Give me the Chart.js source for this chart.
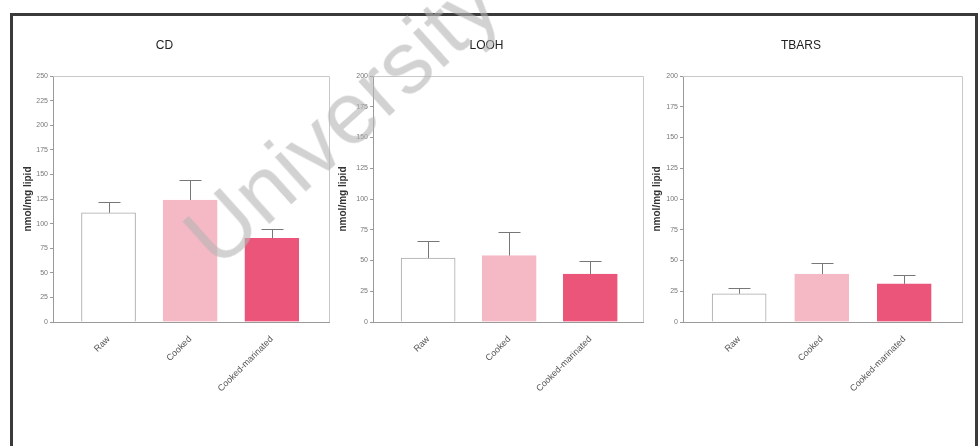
<!DOCTYPE html>
<html>
<head>
<meta charset="utf-8">
<script src="https://cdn.jsdelivr.net/npm/chart.js@4.4.0/dist/chart.umd.min.js"></script>
<style>
  body { margin: 0; background: #fff; overflow: hidden; }
  #page { position: relative; width: 978px; height: 446px; }
  .panel { position: absolute; top: 0; height: 446px; }
  #frame { position: absolute; left: 10px; top: 13px; width: 962px; height: 480px;
           border: 3px solid #3a3a3a; border-bottom: none; }
  #mark { position: absolute; left: 148px; top: 68px; font: 88px "Liberation Sans", Arial, sans-serif;
          color: rgba(180,180,180,0.6); transform: rotate(-42deg); transform-origin: 50% 50%;
          pointer-events: none; white-space: nowrap; }
</style>
</head>
<body>
<div id="page">
  <div id="frame"></div>
  <div class="panel" style="left:0;width:330px"><canvas id="cd_chart"></canvas></div>
  <div class="panel" style="left:330px;width:320px"><canvas id="looh_chart"></canvas></div>
  <div class="panel" style="left:640px;width:338px"><canvas id="tbars_chart"></canvas></div>
  <div id="mark">University</div>
</div>
<script>
var categories = ["Raw", "Cooked", "Cooked-marinated"];
var barColors = ["#ffffff", "#f5b9c5", "#ea5579"];
var barBorders = ["#a8a8a8", "#f5b9c5", "#ea5579"];

var cdMeans = [111, 124, 85];
var cdErrors = [11, 20, 10];
var loohMeans = [52, 54, 39];
var loohErrors = [14, 19, 11];
var tbarsMeans = [23, 39, 31];
var tbarsErrors = [5, 9, 7];

var yLabel = "nmol/mg lipid";
var fontFamily = '"Liberation Sans", Arial, sans-serif';

// error bars (upper side only) and the light box round each plot
var extrasPlugin = {
    id: 'extras',
    afterDatasetsDraw: function (chart) {
        var ctx = chart.ctx;
        var xs = chart.scales.x;
        var ys = chart.scales.y;
        var area = chart.chartArea;
        var errs = chart.options.plugins.extras.errors;
        var means = chart.options.plugins.extras.means;
        ctx.save();
        ctx.strokeStyle = '#c8c8c8';
        ctx.lineWidth = 1;
        ctx.beginPath();
        ctx.moveTo(area.left, area.top + 0.5);
        ctx.lineTo(area.right + 0.5, area.top + 0.5);
        ctx.lineTo(area.right + 0.5, area.bottom);
        ctx.stroke();
        ctx.strokeStyle = '#777';
        for (var i = 0; i < means.length; i++) {
            var x = Math.round(xs.getPixelForValue(i)) + 0.5;
            var y0 = ys.getPixelForValue(means[i]);
            var y1 = Math.round(ys.getPixelForValue(means[i] + errs[i])) + 0.5;
            ctx.beginPath();
            ctx.moveTo(x, y0);
            ctx.lineTo(x, y1);
            ctx.moveTo(x - 11, y1);
            ctx.lineTo(x + 11, y1);
            ctx.stroke();
        }
        ctx.restore();
    }
};

function MakePanel(id, title, means, errors, yMax, axisWidth, titlePad, xMax, padRight) {
    var points = [];
    for (var i = 0; i < means.length; i++) {
        points.push({ x: i, y: means[i] });
    }
    return new Chart(document.getElementById(id), {
        type: 'bar',
        data: {
            datasets: [{
                data: points,
                backgroundColor: barColors,
                borderColor: barBorders,
                borderWidth: 1,
                barThickness: 54
            }]
        },
        options: {
            responsive: true,
            maintainAspectRatio: false,
            animation: false,
            layout: { padding: { left: 0, right: padRight, top: 0, bottom: 0 } },
            plugins: {
                legend: { display: false },
                tooltip: { enabled: false },
                title: {
                    display: true,
                    text: title,
                    color: '#222',
                    font: { family: fontFamily, size: 12, weight: 'normal' },
                    padding: { top: 38, bottom: 23.6 }
                },
                extras: { means: means, errors: errors }
            },
            scales: {
                x: {
                    type: 'linear',
                    offset: false,
                    min: -0.68,
                    max: xMax,
                    grid: { display: false, offset: false },
                    border: { display: true, color: '#9a9a9a' },
                    afterBuildTicks: function (s) {
                        s.ticks = categories.map(function (c, k) { return { value: k }; });
                    },
                    ticks: {
                        autoSkip: false,
                        minRotation: 45,
                        maxRotation: 45,
                        padding: 4,
                        color: '#555',
                        font: { family: fontFamily, size: 9 },
                        callback: function (v) { return categories[v]; }
                    },
                    afterFit: function (s) { s.height = 124; }
                },
                y: {
                    min: 0,
                    max: yMax,
                    grid: { drawOnChartArea: false, tickLength: 3, color: '#9a9a9a' },
                    border: { display: true, color: '#9a9a9a' },
                    ticks: {
                        stepSize: 25,
                        padding: 2,
                        color: '#777',
                        font: { family: fontFamily, size: 7 }
                    },
                    title: {
                        display: true,
                        text: yLabel,
                        color: '#333',
                        font: { family: fontFamily, size: 10, weight: 'bold' },
                        padding: { top: titlePad, bottom: 0 }
                    },
                    afterFit: function (s) { s.width = axisWidth; }
                }
            }
        },
        plugins: [extrasPlugin]
    });
}

MakePanel('cd_chart', 'CD', cdMeans, cdErrors, 250, 53, 22, 2.70, 1);
MakePanel('looh_chart', 'LOOH', loohMeans, loohErrors, 200, 43, 7, 2.65, 7);
MakePanel('tbars_chart', 'TBARS', tbarsMeans, tbarsErrors, 200, 43, 11, 2.70, 16);
</script>
</body>
</html>
